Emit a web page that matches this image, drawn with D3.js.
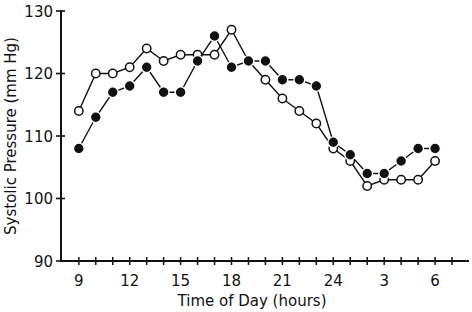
<!DOCTYPE html>
<html>
<head>
<meta charset="utf-8">
<script src="https://cdn.jsdelivr.net/npm/d3@7"></script>
<style>
  body { margin: 0; background: #fff; }
  text { font-family: "DejaVu Sans", sans-serif; fill: #111; }
</style>
</head>
<body>
<div id="chart"></div>
<script>
// hours after midnight of day 1 (25 = 1 am, 30 = 6 am)
const hours = [9,10,11,12,13,14,15,16,17,18,19,20,21,22,23,24,25,26,27,28,29,30];
const filledSeries = [108,113,117,118,121,117,117,122,126,121,122,122,119,119,118,109,107,104,104,106,108,108];
const openSeries   = [114,120,120,121,124,122,123,123,123,127,122,119,116,114,112,108,106,102,103,103,103,106];
const xTickValues = [9,12,15,18,21,24,27,30];
const xTickLabels = ["9","12","15","18","21","24","3","6"];
const yTickValues = [90,100,110,120,130];

const width = 472, height = 312;
const svg = d3.select("#chart").append("svg")
    .attr("width", width).attr("height", height);

const x = d3.scaleLinear().domain([7.95, 32]).range([61, 469]);
const y = d3.scaleLinear().domain([90, 130]).range([261, 11]);

// y axis
svg.append("line")
    .attr("x1", x(7.95)).attr("x2", x(7.95))
    .attr("y1", y(90)).attr("y2", y(130) - 1)
    .attr("stroke", "#111").attr("stroke-width", 2);
yTickValues.forEach(v => {
  svg.append("line")
      .attr("x1", x(7.95) - 5).attr("x2", x(7.95) + 4)
      .attr("y1", y(v)).attr("y2", y(v))
      .attr("stroke", "#111").attr("stroke-width", 1.6);
  svg.append("text")
      .attr("x", x(7.95) - 8).attr("y", y(v) + 5.5)
      .attr("text-anchor", "end")
      .attr("font-size", "15px")
      .text(v);
});

// x axis
svg.append("line")
    .attr("x1", x(7.95) - 1).attr("x2", x(32))
    .attr("y1", y(90)).attr("y2", y(90))
    .attr("stroke", "#111").attr("stroke-width", 2);
d3.range(9, 32).forEach(h => {
  svg.append("line")
      .attr("x1", x(h)).attr("x2", x(h))
      .attr("y1", y(90) - 4).attr("y2", y(90) + 4)
      .attr("stroke", "#111").attr("stroke-width", 1.5);
});
xTickValues.forEach((v, i) => {
  svg.append("text")
      .attr("x", x(v)).attr("y", y(90) + 25)
      .attr("text-anchor", "middle")
      .attr("font-size", "15px")
      .text(xTickLabels[i]);
});

// axis titles
svg.append("text")
    .attr("x", 252).attr("y", 306)
    .attr("text-anchor", "middle")
    .attr("font-size", "15px")
    .text("Time of Day (hours)");
svg.append("text")
    .attr("transform", "translate(16," + y(110) + ") rotate(-90)")
    .attr("text-anchor", "middle")
    .attr("font-size", "15px")
    .text("Systolic Pressure (mm Hg)");

const line = d3.line().x(d => x(d[0])).y(d => y(d[1]));

function drawSeries(values, filled) {
  const pts = hours.map((h, i) => [h, values[i]]);
  svg.append("path")
      .datum(pts)
      .attr("d", line)
      .attr("fill", "none")
      .attr("stroke", "#111")
      .attr("stroke-width", 1.4);
  svg.selectAll(null)
      .data(pts)
      .enter()
      .append("circle")
      .attr("cx", d => x(d[0]))
      .attr("cy", d => y(d[1]))
      .attr("r", filled ? 5.4 : 4.2)
      .attr("fill", filled ? "#111" : "#fff")
      .attr("stroke", filled ? "#fff" : "#111")
      .attr("stroke-width", filled ? 1.4 : 1.5);
}

drawSeries(openSeries, false);
drawSeries(filledSeries, true);
</script>
</body>
</html>
